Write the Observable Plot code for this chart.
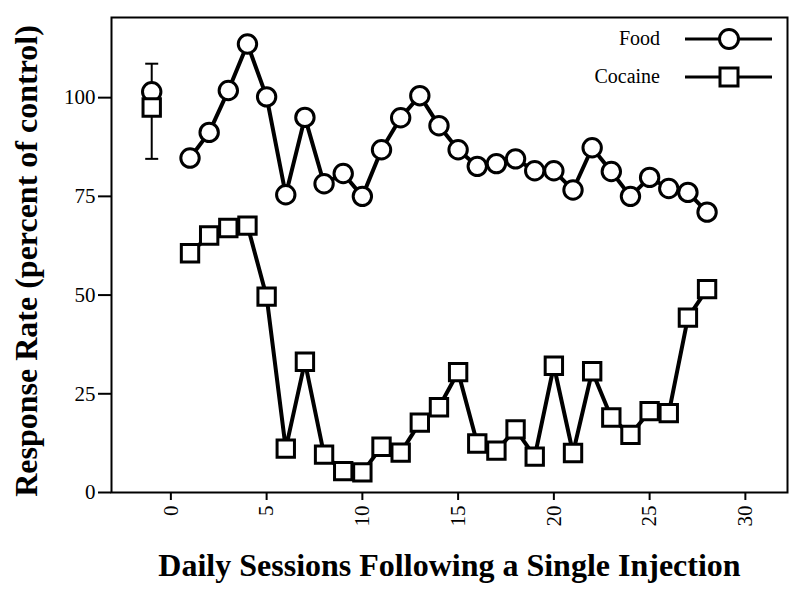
<!DOCTYPE html>
<html><head><meta charset="utf-8">
<script src="https://cdn.jsdelivr.net/npm/d3@7"></script>
<script src="https://cdn.jsdelivr.net/npm/@observablehq/plot@0.6"></script>
<style>body{margin:0;background:#fff;}</style>
</head><body><div id="chart"></div>
<script>
const sessions = [1,2,3,4,5,6,7,8,9,10,11,12,13,14,15,16,17,18,19,20,21,22,23,24,25,26,27,28];
const food = [84.7,91.2,101.8,113.6,100.2,75.4,95,78.2,80.8,75,86.8,94.9,100.5,92.9,86.8,82.6,83.3,84.5,81.5,81.5,76.6,87.3,81.3,75,79.8,77,76,71];
const cocaine = [60.6,65.1,67,67.6,49.6,11.1,33.1,9.6,5.4,5.1,11.6,10.1,17.7,21.6,30.5,12.4,10.6,16,9.1,32.1,10,30.7,19,14.6,20.6,20.1,44.3,51.5];
const baselineSession = [-1];
const baselineFood = [101.5];
const baselineCocaine = [97.5];
const baselineErrLow = [84.5];
const baselineErrHigh = [108.6];
const seriesNames = ["Food", "Cocaine"];
const seriesSymbols = ["circle", "square"];
const xTicks = [0, 5, 10, 15, 20, 25, 30];
const yTicks = [0, 25, 50, 75, 100];
const xTitle = "Daily Sessions Following a Single Injection";
const yTitle = "Response Rate (percent of control)";

const foodData = sessions.map((s, i) => ({session: s, rate: food[i]}));
const cocaineData = sessions.map((s, i) => ({session: s, rate: cocaine[i]}));
const baseData = baselineSession.map((s, i) => ({
  session: s, food: baselineFood[i], cocaine: baselineCocaine[i],
  lo: baselineErrLow[i], hi: baselineErrHigh[i]
}));

const capSymbol = {
  draw(context, size) {
    const h = Math.sqrt(size / Math.PI);
    context.moveTo(-h, 0);
    context.lineTo(h, 0);
  }
};

function legendMark(index, scales, values, dims) {
  const g = d3.create("svg:g");
  const xr = dims.width - dims.marginRight;
  seriesNames.forEach((name, i) => {
    const y = dims.marginTop + 22 + i * 38;
    g.append("line").attr("x1", xr - 102).attr("x2", xr - 15).attr("y1", y).attr("y2", y)
      .attr("stroke", "#000").attr("stroke-width", 3);
    if (seriesSymbols[i] === "circle") {
      g.append("circle").attr("cx", xr - 58).attr("cy", y).attr("r", 9.5)
        .attr("fill", "#fff").attr("stroke", "#000").attr("stroke-width", 3);
    } else {
      g.append("rect").attr("x", xr - 58 - 9).attr("y", y - 9).attr("width", 18).attr("height", 18)
        .attr("fill", "#fff").attr("stroke", "#000").attr("stroke-width", 3);
    }
    g.append("text").attr("x", xr - 127).attr("y", y).attr("dy", "0.32em")
      .attr("text-anchor", "end").attr("font-size", 20).attr("fill", "#000").text(name);
  });
  return g.node();
}

const chart = Plot.plot({
  width: 800, height: 594,
  marginLeft: 111, marginRight: 13, marginTop: 17, marginBottom: 102,
  style: {fontFamily: "'Liberation Serif', serif", fontSize: "21px", color: "#000", background: "#fff"},
  x: {domain: [-3.1, 32.2]},
  y: {domain: [0, 120.3]},
  marks: [
    Plot.frame({stroke: "#000", strokeWidth: 2}),
    Plot.axisX({ticks: xTicks, tickRotate: -90, tickSize: 8, tickPadding: 5, strokeWidth: 2, label: null, fontSize: 21}),
    Plot.axisY({ticks: yTicks, tickSize: 13, tickPadding: 3, strokeWidth: 2, label: null, fontSize: 21}),
    Plot.ruleX(baseData, {x: "session", y1: "lo", y2: "hi", stroke: "#000", strokeWidth: 2}),
    Plot.dot(baseData, {x: "session", y: "lo", symbol: capSymbol, r: 6.5, stroke: "#000", strokeWidth: 2, fill: "none"}),
    Plot.dot(baseData, {x: "session", y: "hi", symbol: capSymbol, r: 6.5, stroke: "#000", strokeWidth: 2, fill: "none"}),
    Plot.line(foodData, {x: "session", y: "rate", stroke: "#000", strokeWidth: 4}),
    Plot.line(cocaineData, {x: "session", y: "rate", stroke: "#000", strokeWidth: 4}),
    Plot.dot(foodData, {x: "session", y: "rate", r: 9.2, fill: "#fff", stroke: "#000", strokeWidth: 3}),
    Plot.dot(cocaineData, {x: "session", y: "rate", r: 9.8, symbol: "square", fill: "#fff", stroke: "#000", strokeWidth: 3}),
    Plot.dot(baseData, {x: "session", y: "food", r: 9.2, fill: "#fff", stroke: "#000", strokeWidth: 3}),
    Plot.dot(baseData, {x: "session", y: "cocaine", r: 9.8, symbol: "square", fill: "#fff", stroke: "#000", strokeWidth: 3}),
    Plot.text([xTitle], {text: d => d, frameAnchor: "bottom", dy: 73, lineAnchor: "middle", textAnchor: "middle", fontSize: 32, fontWeight: "bold"}),
    Plot.text([yTitle], {text: d => d, frameAnchor: "left", dx: -85, dy: 6, rotate: -90, textAnchor: "middle", lineAnchor: "middle", fontSize: 32, fontWeight: "bold"}),
    legendMark
  ]
});
document.getElementById("chart").append(chart);
</script>
</body></html>
